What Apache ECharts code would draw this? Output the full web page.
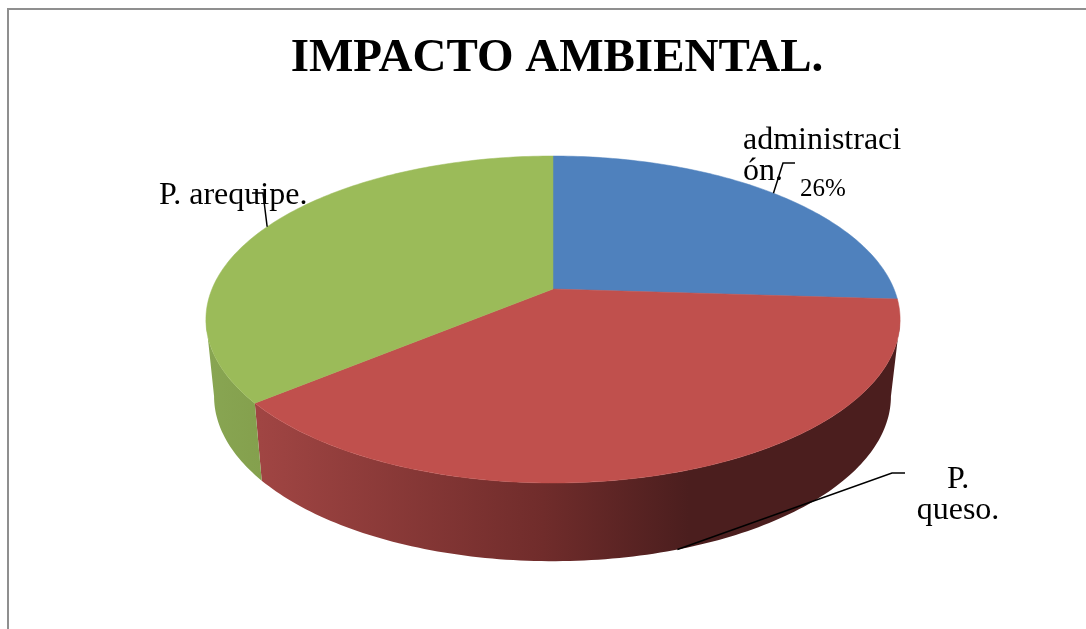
<!DOCTYPE html>
<html>
<head>
<meta charset="utf-8">
<style>html,body{margin:0;padding:0;background:#fff}#chart{width:1086px;height:629px}</style>
<script src="https://cdn.jsdelivr.net/npm/echarts@6/dist/echarts.min.js"></script>
</head>
<body>
<div id="chart"></div>
<script>
// Environmental impact share by area
const titleText = 'IMPACTO AMBIENTAL.';
const categories = ['administración.', 'P. queso.', 'P. arequipe.'];
const values = [26, 38, 36];
const labelLines = [['administraci', 'ón.'], ['P.', 'queso.'], ['P. arequipe.']];
const percentLabels = ['26%', '', ''];
const topColors = ['#4f81bd', '#c0504d', '#9bbb59'];

// Perspective disc: (X, Y) on the unit circle to screen, for the top and the base ring
const P = 0.1865;
const topRing = { cx: 553, cy: 289, a: 341, b: 157.8 };
const baseRing = { cx: 552.5, cy: 365.5, a: 332.5, b: 159.2 };
const FRONT_START = (Math.acos(-P) * 180) / Math.PI;
const FRONT_END = 360 - FRONT_START;

function project(ring, deg) {
  const t = (deg * Math.PI) / 180;
  const X = Math.sin(t), Y = Math.cos(t);
  const d = 1 + P * Y;
  return [ring.cx + (ring.a * X) / d, ring.cy - (ring.b * Y) / d];
}
function arc(ring, from, to) {
  const n = Math.max(2, Math.ceil(Math.abs(to - from)));
  const pts = [];
  for (let i = 0; i <= n; i++) pts.push(project(ring, from + ((to - from) * i) / n));
  return pts;
}

// Cumulative clockwise angles of each slice, starting at twelve o'clock
const total = values.reduce((s, v) => s + v, 0);
const slices = [];
values.reduce((start, v) => {
  const end = start + (v / total) * 360;
  slices.push({ start, end, mid: (start + end) / 2 });
  return end;
}, 0);

const wallFills = [
  null,
  { type: 'linear', x: 260, y: 0, x2: 890, y2: 0, global: true, colorStops: [
    { offset: 0, color: '#a04543' }, { offset: 0.45, color: '#702c2b' },
    { offset: 0.68, color: '#4b1e1e' }, { offset: 1, color: '#4b1e1e' }] },
  { type: 'linear', x: 210, y: 0, x2: 262, y2: 0, global: true, colorStops: [
    { offset: 0, color: '#88a552' }, { offset: 1, color: '#84a04d' }] }
];

// Leader elbows and text anchors around the disc
const leaderBends = [[[783, 163], [795, 163]], [[892, 473], [905, 473]], [[263, 193], [252, 193]]];
const leaderRings = [topRing, baseRing, topRing];
const labelBoxes = [
  { x: 743, y: 125, align: 'left' },
  { x: 958, y: 464, align: 'center' },
  { x: 159, y: 180, align: 'left' }
];
const percentBox = { x: 800, y: 189 };

const seriesData = categories.map((name, i) => ({ name, value: [values[i]] }));
const serif = '"Liberation Serif", "Times New Roman", serif';

const option = {
  animation: false,
  backgroundColor: '#ffffff',
  title: {
    text: titleText, left: 552, top: 30, textAlign: 'center',
    textStyle: { fontFamily: serif, fontSize: 47, fontWeight: 'bold', color: '#000' }
  },
  graphic: [{
    type: 'rect', silent: true, z: 0,
    shape: { x: 8, y: 9, width: 1200, height: 800 },
    style: { fill: 'none', stroke: '#8f8f8f', lineWidth: 2 }
  }],
  series: [
    {
      type: 'custom', coordinateSystem: 'none', z: 2, silent: true, data: seriesData,
      renderItem(params) {
        const s = slices[params.dataIndex];
        const from = Math.max(s.start, FRONT_START), to = Math.min(s.end, FRONT_END);
        if (to <= from) return { type: 'group', children: [] };
        const points = arc(topRing, from, to).concat(arc(baseRing, to, from));
        return { type: 'polygon', shape: { points }, style: { fill: wallFills[params.dataIndex] } };
      }
    },
    {
      type: 'custom', coordinateSystem: 'none', z: 3, silent: true, data: seriesData,
      renderItem(params) {
        const s = slices[params.dataIndex];
        const points = [[topRing.cx, topRing.cy]].concat(arc(topRing, s.start, s.end));
        const fill = topColors[params.dataIndex];
        return { type: 'polygon', shape: { points }, style: { fill, stroke: fill, lineWidth: 0.5 } };
      }
    },
    {
      type: 'custom', coordinateSystem: 'none', z: 4, silent: true, data: seriesData,
      renderItem(params) {
        const i = params.dataIndex;
        const anchor = project(leaderRings[i], slices[i].mid);
        return {
          type: 'polyline',
          shape: { points: [anchor].concat(leaderBends[i]) },
          style: { fill: 'none', stroke: '#000', lineWidth: 1.5 }
        };
      }
    },
    {
      type: 'custom', coordinateSystem: 'none', z: 5, silent: true, data: seriesData,
      renderItem(params) {
        const i = params.dataIndex;
        const box = labelBoxes[i];
        const children = [{
          type: 'text',
          style: {
            x: box.x, y: box.y, text: labelLines[i].join('\n'), align: box.align, verticalAlign: 'top',
            font: '32px ' + serif, lineHeight: 31, fill: '#000'
          }
        }];
        if (percentLabels[i]) {
          children.push({
            type: 'text',
            style: {
              x: percentBox.x, y: percentBox.y, text: percentLabels[i], verticalAlign: 'middle',
              font: '25px ' + serif, fill: '#000'
            }
          });
        }
        return { type: 'group', children };
      }
    }
  ]
};

echarts.init(document.getElementById('chart'), null, { renderer: 'canvas' }).setOption(option);
</script>
</body>
</html>
